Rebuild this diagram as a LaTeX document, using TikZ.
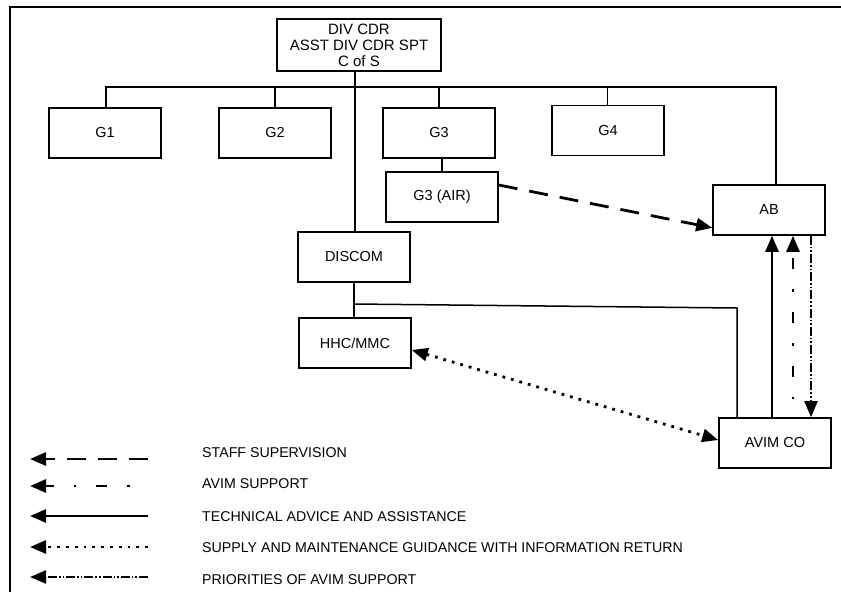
\documentclass[tikz,border=0pt]{standalone}
\usepackage{fontspec}
\setmainfont{Liberation Sans}
\usetikzlibrary{arrows.meta}

\tikzset{
    unit/.style={draw, line width=1.6pt, minimum width=112pt, minimum height=50pt,
        inner sep=0pt, font=\fontsize{14.5}{16}\selectfont, align=center},
    link/.style={line width=1.5pt},
    head/.style={-{Triangle[length=16pt, width=13pt]}},
    staffline/.style={head, line width=2.8pt, dash pattern=on 19pt off 12pt},
    avimline/.style={head, line width=2.8pt, dash pattern=on 2.6pt off 20pt on 11pt off 20pt, dash phase=35.6pt},
    techline/.style={head, line width=2.6pt},
    supplyline/.style={line width=2.8pt, dash pattern=on 2.8pt off 6pt},
    prioline/.style={head, line width=2.2pt, dash pattern=on 9pt off 2pt on 1.6pt off 2pt on 1.6pt off 2pt},
    keytext/.style={anchor=west, inner sep=0pt, font=\fontsize{14.2}{16}\selectfont}
}

\begin{document}
\begin{tikzpicture}[x=1pt, y=-1pt]
    \useasboundingbox ({0}, {0}) rectangle ({841}, {592});
    % Frame
    \draw[line width=2.4pt] ({841}, {7}) -- ({10}, {7}) -- ({10}, {592});

    % Command and staff
    \node[unit, minimum width=164pt, minimum height=52pt, font=\fontsize{15}{16}\selectfont]
        (cdr) at ({359}, {45}) {DIV CDR\\ASST DIV CDR SPT\\C of S};
    \node[unit] (g1) at ({105}, {133}) {G1};
    \node[unit] (g2) at ({275}, {133}) {G2};
    \node[unit] (g3) at ({439}, {133}) {G3};
    \node[unit] (g4) at ({608}, {130.5}) {G4};
    \node[unit] (g3air) at ({442}, {197}) {G3 (AIR)};
    \node[unit] (ab) at ({769}, {210}) {AB};

    % Support units
    \node[unit] (discom) at ({354}, {257}) {DISCOM};
    \node[unit] (hhc) at ({355}, {343}) {HHC/MMC};
    \node[unit] (avim) at ({775}, {443}) {AVIM CO};

    % Staff bus
    \coordinate (busl) at ({106}, {87});
    \coordinate (busr) at ({776}, {87});
    \draw[link] (busl |- g1.north) -- (busl) -- (busr) -- (busr |- ab.north);
    \draw[link] (g2.north) -- (g2.north |- busl);
    \draw[link] (g3.north) -- (g3.north |- busl);
    \draw[line width=0.6pt] ([xshift=-1pt]g4.north) -- ([xshift=-1pt]g4.north |- busl);
    \draw[link] ([xshift=3pt]g3.south) -- ([xshift=3pt]g3.south |- g3air.north);
    \draw[link] ([xshift=-4pt]cdr.south) -- ([xshift=-4pt]cdr.south |- discom.north);

    % DISCOM branch
    \draw[link] (discom.south) -- (discom.south |- hhc.north);
    \coordinate (split) at ({354}, {304});
    \draw[link] (split) -- ([xshift=-38pt]avim.north |- {0,308}) -- ([xshift=-38pt]avim.north);

    % Relationships
    \draw[staffline] ([yshift=12pt]g3air.east) -- ([yshift=8pt]ab.south west);
    \draw[techline] ([xshift=-3pt]avim.north) -- ([xshift=-3pt]avim.north |- ab.south);
    \draw[avimline] ([xshift=18pt]avim.north) -- ([xshift=18pt]avim.north |- ab.south);
    \draw[prioline] ([xshift=42pt]ab.south) -- ([xshift=42pt]ab.south |- avim.north);
    \draw[supplyline, {Triangle[length=16pt, width=13pt]}-{Triangle[length=16pt, width=13pt]}]
        ([yshift=-7pt]hhc.east) -- ([yshift=3pt]avim.west);

    % Key
    \node[keytext] (k1) at ({202}, {453}) {STAFF SUPERVISION};
    \node[keytext] (k2) at ({202}, {484}) {AVIM SUPPORT};
    \node[keytext] (k3) at ({202}, {517}) {TECHNICAL ADVICE AND ASSISTANCE};
    \node[keytext] (k4) at ({202}, {548}) {SUPPLY AND MAINTENANCE GUIDANCE WITH INFORMATION RETURN};
    \node[keytext] (k5) at ({202}, {580}) {PRIORITIES OF AVIM SUPPORT};
    \coordinate (k1a) at ({148}, {459}); \coordinate (k1b) at ({30}, {459});
    \coordinate (k2a) at ({148}, {486}); \coordinate (k2b) at ({30}, {486});
    \coordinate (k3a) at ({148}, {516}); \coordinate (k3b) at ({30}, {516});
    \coordinate (k4a) at ({148}, {547}); \coordinate (k4b) at ({30}, {547});
    \coordinate (k5a) at ({148}, {577}); \coordinate (k5b) at ({30}, {577});
    \draw[staffline] (k1a) -- (k1b);
    \draw[avimline] (k2a) -- (k2b);
    \draw[techline] (k3a) -- (k3b);
    \draw[supplyline, head] (k4a) -- (k4b);
    \draw[prioline] (k5a) -- (k5b);
\end{tikzpicture}
\end{document}
